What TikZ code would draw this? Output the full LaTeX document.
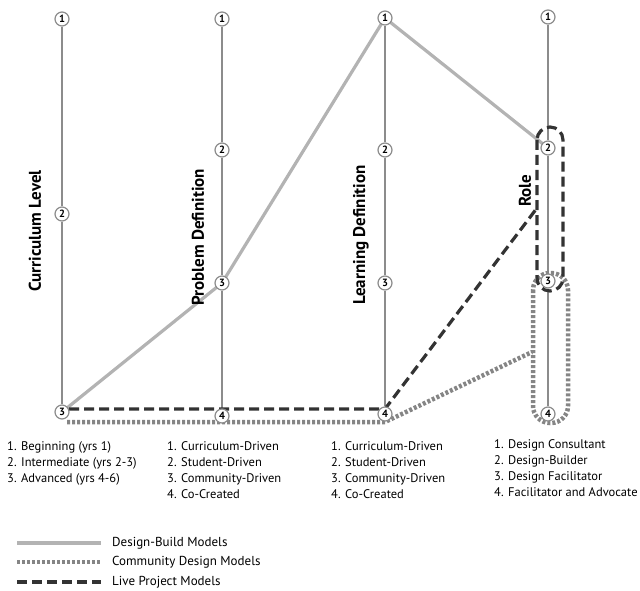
\documentclass[tikz,border=0pt]{standalone}
\usepackage{fontspec}
\setmainfont{PT Sans}
\usetikzlibrary{calc, positioning, backgrounds}
\definecolor{axisgray}{HTML}{8C8C8C}
\definecolor{buildgray}{HTML}{B3B3B3}
\definecolor{commgray}{HTML}{858585}
\definecolor{livedark}{HTML}{333333}
\tikzset{
  level/.style={circle, draw=axisgray, fill=white, line width=1.2pt,
                minimum size=14pt, inner sep=0pt,
                font=\fontsize{10.5}{10.5}\selectfont\bfseries},
  axis/.style={draw=axisgray, line width=1.5pt},
  heading/.style={rotate=90, anchor=west, inner sep=0pt,
                  font=\fontsize{17}{17}\selectfont\bfseries},
  keylist/.style={anchor=north west, align=left, inner sep=0pt,
                  font=\fontsize{12.5}{16}\selectfont},
  keytext/.style={anchor=west, inner sep=0pt, font=\fontsize{13}{14}\selectfont},
  build/.style={draw=buildgray, line width=3.2pt},
  community/.style={draw=commgray, line width=4.5pt, dash pattern=on 3pt off 2pt},
  live/.style={draw=livedark, line width=3.2pt, dash pattern=on 10pt off 5pt},
}

\begin{document}
\begin{tikzpicture}[x=1pt, y=-1pt]

  \useasboundingbox (0,0) rectangle (640,591);

  % =====================================================
  % LEVELS
  % =====================================================

  \node[level] (cl1) at (62,19)  {1};
  \node[level] (cl2) at (62,214) {2};
  \node[level] (cl3) at (62,412) {3};

  \node[level] (pd1) at (222,19)  {1};
  \node[level] (pd2) at (222,150) {2};
  \node[level] (pd3) at (222,283) {3};
  \node[level] (pd4) at (222,416) {4};

  \node[level] (ld1) at (385,18)  {1};
  \node[level] (ld2) at (385,150) {2};
  \node[level] (ld3) at (385,283) {3};
  \node[level] (ld4) at (385,414) {4};

  \node[level] (ro1) at (548,17)  {1};
  \node[level] (ro2) at (548,148) {2};
  \node[level] (ro3) at (548,281) {3};
  \node[level] (ro4) at (548,414) {4};


  % =====================================================
  % HEADINGS
  % =====================================================

  \node[heading] (hcl) at (35,292)  {Curriculum Level};
  \node[heading] (hpd) at (198,306) {Problem Definition};
  \node[heading] (hld) at (361,305) {Learning Definition};
  \node[heading] (hro) at (525,207) {Role};


  % =====================================================
  % LISTS
  % =====================================================

  \node[keylist] (lcl) at (7,441)
    {1. Beginning (yrs 1)\\2. Intermediate (yrs 2-3)\\3. Advanced (yrs 4-6)};

  \node[keylist] (lpd) at (167,441)
    {1. Curriculum-Driven\\2. Student-Driven\\3. Community-Driven\\4. Co-Created};

  \node[keylist] (lld) at (331,441)
    {1. Curriculum-Driven\\2. Student-Driven\\3. Community-Driven\\4. Co-Created};

  \node[keylist] (lro) at (494,439)
    {1. Design Consultant\\2. Design-Builder\\3. Design Facilitator\\4. Facilitator and Advocate};


  % =====================================================
  % LEGEND
  % =====================================================

  \node[keytext] (kbuild) at (112,543) {Design-Build Models};
  \node[keytext] (kcomm)  at (112,562) {Community Design Models};
  \node[keytext] (klive)  at (112,582) {Live Project Models};

  \draw[build]
    ($(kbuild.west)+(-95,0)$) -- ($(kbuild.west)+(-11,0)$);

  \draw[community]
    ($(kcomm.west)+(-95,0)$) -- ($(kcomm.west)+(-11,0)$);

  \draw[live]
    ($(klive.west)+(-95,0)$) -- ($(klive.west)+(-11,0)$);


  \begin{scope}[on background layer]

  % =====================================================
  % AXES
  % =====================================================

  \draw[axis] (cl1) -- (cl2) -- (cl3);
  \draw[axis] (pd1) -- (pd2) -- (pd3) -- (pd4);
  \draw[axis] (ld1) -- (ld2) -- (ld3) -- (ld4);
  \draw[axis] (ro1) -- (ro2) -- (ro3) -- (ro4);


  % =====================================================
  % DESIGN-BUILD MODELS
  % =====================================================

  \draw[build, line join=round]
    (cl3.center) -- (pd3.center) -- (ld1.center) -- (ro2.center);


  % =====================================================
  % COMMUNITY DESIGN MODELS
  % =====================================================

  \coordinate (commjoin) at ($(ro4)+(-16,-62)$);

  \draw[community]
    ($(cl3)+(5,10)$) -- ($(ld4)+(0,8)$) -- (commjoin);

  \draw[community, rounded corners=17pt]
    ($(ro3)+(-15,-8)$) rectangle ($(ro4)+(20,9)$);


  % =====================================================
  % LIVE PROJECT MODELS
  % =====================================================

  \coordinate (livejoin) at ($(ro2)+(-11,60)$);

  \draw[live]
    ($(cl3)+(7,-3)$) -- ($(ld4)+(0,-5)$) -- (livejoin);

  \draw[live, rounded corners=13pt]
    ($(ro2)+(-11,-21)$) rectangle ($(ro3)+(15,10)$);

  \end{scope}

\end{tikzpicture}
\end{document}
